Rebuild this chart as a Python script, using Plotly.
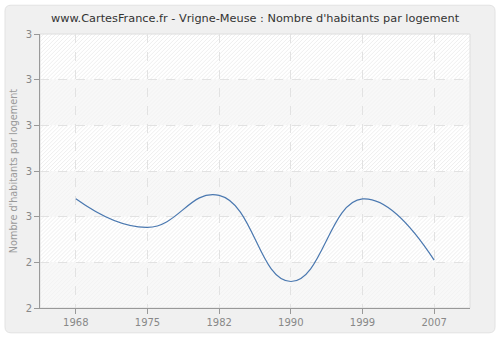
import plotly.graph_objects as go

years = ["1968", "1975", "1982", "1990", "1999", "2007"]
values = [2.678, 2.553, 2.693, 2.316, 2.678, 2.41]
y_tick_vals = [2.2, 2.4, 2.6, 2.8, 3.0, 3.2, 3.4]
y_tick_text = ["2", "2", "3", "3", "3", "3", "3"]

W, H = 500, 340
L, R, T, B = 40, 30, 34, 30
pw, ph = W - L - R, H - T - B

def px(x):
    return (x - L) / pw

def py(y):
    return (H - B - y) / ph

fig = go.Figure()
fig.add_trace(go.Scatter(
    x=years, y=values, mode="lines",
    line=dict(color="#4a78b0", width=1.2, shape="spline", smoothing=1.3),
    hoverinfo="skip", showlegend=False,
))

# rounded panel background
x0, y0, x1, y1, r = 5, 5, 495, 335, 6
path = (f"M {px(x0+r)},{py(y0)} L {px(x1-r)},{py(y0)} "
        f"Q {px(x1)},{py(y0)} {px(x1)},{py(y0+r)} L {px(x1)},{py(y1-r)} "
        f"Q {px(x1)},{py(y1)} {px(x1-r)},{py(y1)} L {px(x0+r)},{py(y1)} "
        f"Q {px(x0)},{py(y1)} {px(x0)},{py(y1-r)} L {px(x0)},{py(y0+r)} "
        f"Q {px(x0)},{py(y0)} {px(x0+r)},{py(y0)} Z")
fig.add_shape(type="path", path=path, xref="paper", yref="paper",
              fillcolor="#f0f0f0", line=dict(color="#e2e2e2", width=1), layer="below")

# plot area bands with hatching (decoration)
xL, xR = L, W - R
nb = len(y_tick_vals) - 1
for i in range(nb):
    ya = T + i * ph / nb
    yb = T + (i + 1) * ph / nb
    hatched = (i % 2 == 0)
    fig.add_shape(type="rect", xref="paper", yref="paper",
                  x0=0, x1=1, y0=py(yb), y1=py(ya),
                  fillcolor="#ffffff" if hatched else "#f8f8f8",
                  line=dict(width=0), layer="below")
    segs = []
    c = xL + ya
    while c < xR + yb:
        xa = max(xL, c - yb)
        xb = min(xR, c - ya)
        if xb > xa:
            segs.append(f"M {px(xa):.5f},{py(c - xa):.5f} L {px(xb):.5f},{py(c - xb):.5f}")
        c += 4
    fig.add_shape(type="path", path=" ".join(segs), xref="paper", yref="paper",
                  line=dict(color="#efefef" if hatched else "#f3f3f3", width=1),
                  layer="below")

fig.add_shape(type="rect", xref="paper", yref="paper", x0=0, y0=0, x1=1, y1=1,
              line=dict(color="#dedede", width=1), layer="below")

fig.update_layout(
    width=W, height=H,
    margin=dict(l=L, r=R, t=T, b=B),
    paper_bgcolor="white",
    plot_bgcolor="rgba(0,0,0,0)",
    title=dict(text="www.CartesFrance.fr - Vrigne-Meuse : Nombre d'habitants par logement",
               x=0.5, xanchor="center", xref="paper", y=1 - 18 / H, yanchor="middle",
               font=dict(family="DejaVu Sans", size=11.3, color="#333333")),
    font=dict(family="DejaVu Sans", color="#888888", size=10),
)
fig.update_xaxes(
    type="category", range=[-0.5, 5.5],
    showline=True, linecolor="#999999", linewidth=1,
    ticks="outside", ticklen=5, tickcolor="#999999",
    showgrid=True, gridcolor="#e2e2e2", griddash="dash", gridwidth=1,
    tickfont=dict(size=10, color="#888888"), zeroline=False,
)
fig.update_yaxes(
    range=[2.2, 3.4], tickvals=y_tick_vals, ticktext=y_tick_text,
    showline=True, linecolor="#999999", linewidth=1,
    ticks="outside", ticklen=5, tickcolor="#999999",
    showgrid=True, gridcolor="#e2e2e2", griddash="dash", gridwidth=1,
    tickfont=dict(size=10, color="#888888"), zeroline=False,
    title=dict(text="Nombre d'habitants par logement", standoff=6,
               font=dict(size=9.7, color="#999999")),
)
fig.write_html("out.html")
